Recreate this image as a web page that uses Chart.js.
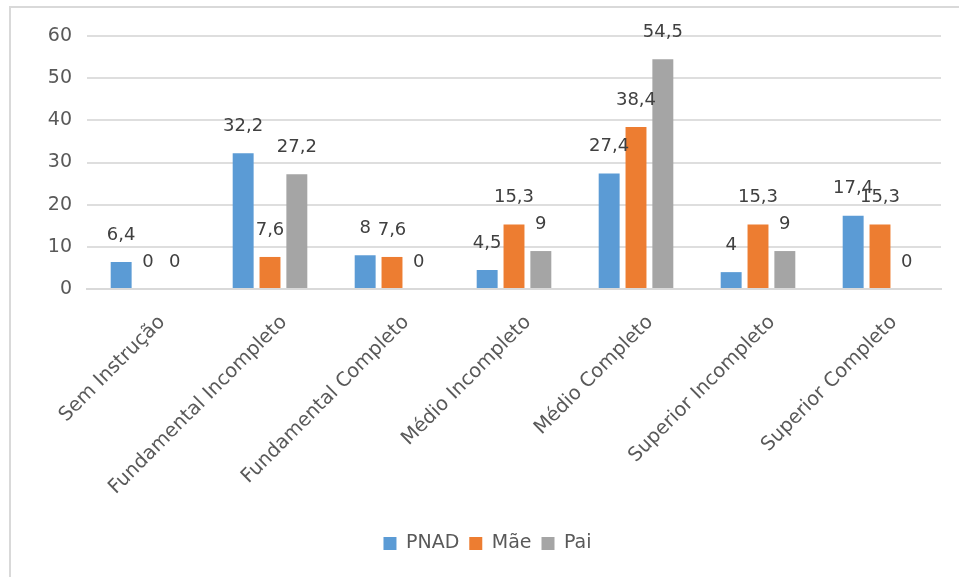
<!DOCTYPE html>
<html>
<head>
<meta charset="utf-8">
<script src="https://cdn.jsdelivr.net/npm/chart.js@4.4.1/dist/chart.umd.min.js"></script>
<style>
  html, body { margin: 0; padding: 0; background: #fff; }
  #wrap { position: relative; width: 959px; height: 577px; overflow: hidden; }
  #frame { position: absolute; left: 9px; top: 6px; right: -5px; bottom: -5px; border-left: 2px solid #d9d9d9; border-top: 2px solid #d9d9d9; }
  canvas { position: absolute; left: 0; top: 0; }
</style>
</head>
<body>
<div id="wrap">
  <div id="frame"></div>
  <canvas id="chart" width="959" height="577"></canvas>
</div>
<script>
const categories = [
  "Sem Instrução",
  "Fundamental Incompleto",
  "Fundamental Completo",
  "Médio Incompleto",
  "Médio Completo",
  "Superior Incompleto",
  "Superior Completo"
];
const pnad = [6.4, 32.2, 8, 4.5, 27.4, 4, 17.4];
const mae = [0, 7.6, 7.6, 15.3, 38.4, 15.3, 15.3];
const pai = [0, 27.2, 0, 9, 54.5, 9, 0];
const yTicks = [0, 10, 20, 30, 40, 50, 60];

const FONT = "'DejaVu Sans', sans-serif";

// data labels above each bar, excel style
const barLabels = {
  id: "barLabels",
  afterDatasetsDraw(chart) {
    const ctx = chart.ctx;
    ctx.save();
    ctx.font = "18px " + FONT;
    ctx.fillStyle = "#404040";
    ctx.textAlign = "center";
    ctx.textBaseline = "middle";
    chart.data.datasets.forEach((ds, i) => {
      const meta = chart.getDatasetMeta(i);
      meta.data.forEach((bar, j) => {
        const txt = String(ds.data[j]).replace(".", ",");
        ctx.fillText(txt, bar.x, bar.y - 27);
      });
    });
    ctx.restore();
  }
};

new Chart(document.getElementById("chart"), {
  type: "bar",
  data: {
    labels: categories,
    datasets: [
      { label: "PNAD", data: pnad, backgroundColor: "#5b9bd5" },
      { label: "Mãe", data: mae, backgroundColor: "#ed7d31" },
      { label: "Pai", data: pai, backgroundColor: "#a5a5a5" }
    ]
  },
  options: {
    responsive: false,
    animation: false,
    categoryPercentage: 0.66,
    barPercentage: 0.78,
    layout: { padding: { left: 34, right: 18, top: 36, bottom: 14 } },
    scales: {
      x: {
        grid: { display: false, drawTicks: false },
        border: { color: "#d9d9d9", width: 2 },
        ticks: {
          autoSkip: false,
          maxRotation: 45,
          minRotation: 45,
          color: "#595959",
          font: { family: FONT, size: 19.5 },
          padding: 22,
          labelOffset: 14
        },
        afterFit(scale) { scale.height = 235; }
      },
      y: {
        min: 0,
        max: 60,
        afterBuildTicks(scale) { scale.ticks = yTicks.map(v => ({ value: v })); },
        grid: { color: "#dedede", lineWidth: 2, drawTicks: false },
        border: { display: false },
        ticks: {
          color: "#595959",
          font: { family: FONT, size: 19 },
          padding: 15
        },
        afterFit(scale) { scale.width = 53; }
      }
    },
    plugins: {
      legend: {
        position: "bottom",
        labels: {
          boxWidth: 13,
          boxHeight: 13,
          padding: 10,
          color: "#595959",
          font: { family: FONT, size: 19 }
        }
      },
      tooltip: { enabled: false }
    }
  },
  plugins: [barLabels]
});
</script>
</body>
</html>
